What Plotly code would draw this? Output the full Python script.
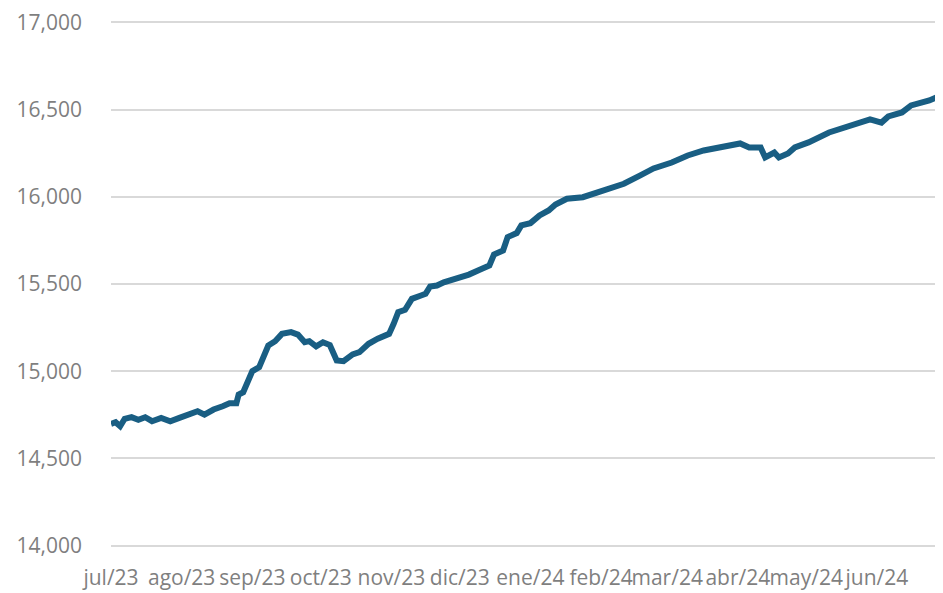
import plotly.graph_objects as go

# Serie (fechas y niveles)
fechas = [
    "2023-07-01", "2023-07-03", "2023-07-05", "2023-07-07", "2023-07-10", "2023-07-13",
    "2023-07-16", "2023-07-19", "2023-07-23", "2023-07-27", "2023-07-31", "2023-08-04",
    "2023-08-08", "2023-08-11", "2023-08-15", "2023-08-19", "2023-08-22", "2023-08-25",
    "2023-08-26", "2023-08-28", "2023-08-30", "2023-09-01", "2023-09-04", "2023-09-06",
    "2023-09-08", "2023-09-11", "2023-09-14", "2023-09-18", "2023-09-21", "2023-09-24",
    "2023-09-26", "2023-09-29", "2023-10-01", "2023-10-02", "2023-10-05", "2023-10-08",
    "2023-10-11", "2023-10-15", "2023-10-18", "2023-10-22", "2023-10-26", "2023-10-31",
    "2023-11-02", "2023-11-04", "2023-11-07", "2023-11-10", "2023-11-14", "2023-11-16",
    "2023-11-18", "2023-11-21", "2023-11-24", "2023-11-28", "2023-12-02", "2023-12-05",
    "2023-12-10", "2023-12-14", "2023-12-16", "2023-12-20", "2023-12-22", "2023-12-26",
    "2023-12-28", "2024-01-01", "2024-01-05", "2024-01-09", "2024-01-12", "2024-01-17",
    "2024-01-24", "2024-01-29", "2024-02-06", "2024-02-11", "2024-02-18", "2024-02-24",
    "2024-03-03", "2024-03-10", "2024-03-17", "2024-03-25", "2024-04-02", "2024-04-06",
    "2024-04-11", "2024-04-13", "2024-04-17", "2024-04-19", "2024-04-23", "2024-04-26",
    "2024-05-02", "2024-05-11", "2024-05-20", "2024-05-29", "2024-06-03", "2024-06-06",
    "2024-06-12", "2024-06-16", "2024-06-24", "2024-06-30",
]
valores = [
    14698, 14707, 14684, 14727, 14736, 14721,
    14736, 14713, 14732, 14713, 14732, 14751,
    14770, 14751, 14780, 14799, 14816, 14816,
    14866, 14879, 14937, 15000, 15023, 15090,
    15147, 15172, 15214, 15224, 15210, 15166,
    15172, 15142, 15161, 15166, 15150, 15061,
    15057, 15096, 15109, 15157, 15186, 15214,
    15272, 15338, 15352, 15415, 15434, 15444,
    15486, 15491, 15510, 15526, 15545, 15554,
    15583, 15606, 15669, 15692, 15769, 15792,
    15836, 15849, 15893, 15922, 15956, 15989,
    15998, 16017, 16052, 16075, 16122, 16163,
    16197, 16237, 16266, 16283, 16306, 16283,
    16283, 16226, 16254, 16226, 16249, 16283,
    16312, 16369, 16409, 16444, 16426, 16461,
    16484, 16524, 16553, 16587,
]

meses = ["2023-07-01", "2023-08-01", "2023-09-01", "2023-10-01", "2023-11-01", "2023-12-01",
         "2024-01-01", "2024-02-01", "2024-03-01", "2024-04-01", "2024-05-01", "2024-06-01"]
etiquetas = ["jul/23", "ago/23", "sep/23", "oct/23", "nov/23", "dic/23",
             "ene/24", "feb/24", "mar/24", "abr/24", "may/24", "jun/24"]
niveles = [14000, 14500, 15000, 15500, 16000, 16500, 17000]

gris = "#7f7f7f"

fig = go.Figure()
fig.add_trace(
    go.Scatter(
        x=fechas,
        y=valores,
        mode="lines",
        line=dict(color="#195E83", width=6),
        showlegend=False,
    )
)

# la página deja 8px de margen en el body: se descuenta del tamaño
fig.update_layout(
    width=935,
    height=585,
    margin=dict(l=103, r=0, t=11, b=44),
    paper_bgcolor="white",
    plot_bgcolor="white",
    font=dict(family="Open Sans", size=21, color=gris),
    xaxis=dict(
        type="date",
        range=[fechas[0], fechas[-1]],
        tickvals=meses,
        ticktext=etiquetas,
        tickangle=0,
        showgrid=False,
        showline=False,
        zeroline=False,
        ticks="",
        ticklabelstandoff=14,
        automargin=False,
    ),
    yaxis=dict(
        range=[13980, 17020],
        tickvals=niveles,
        tickformat=",",
        showgrid=True,
        gridcolor="#d9d9d9",
        gridwidth=1.5,
        zeroline=False,
        showline=False,
        ticks="",
        ticklabelstandoff=28,
        ticklabeloverflow="allow",
        automargin=False,
    ),
)

fig.write_html("out.html")
